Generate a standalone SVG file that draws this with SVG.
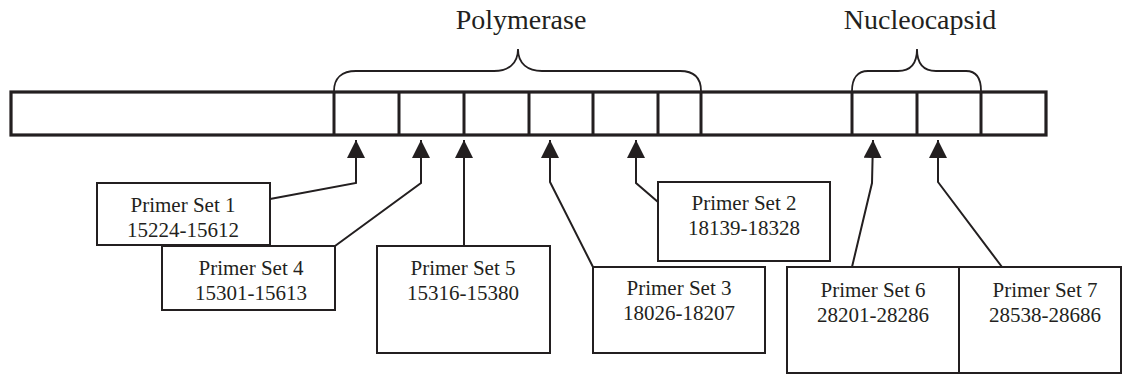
<svg xmlns="http://www.w3.org/2000/svg" width="1122" height="375" viewBox="0 0 1122 375">
<style>
.bar{fill:none;stroke:#231f20;stroke-width:3.2}
.div{stroke:#231f20;stroke-width:3}
.brace{fill:none;stroke:#231f20;stroke-width:1.8}
.box{fill:#fff;stroke:#231f20;stroke-width:2}
.con{fill:none;stroke:#231f20;stroke-width:2}
.lbl{font-family:"Liberation Serif","Times New Roman",serif;font-size:21px;fill:#231f20;text-anchor:middle}
.title{font-family:"Liberation Serif","Times New Roman",serif;font-size:28px;fill:#231f20;text-anchor:middle}
</style>
<defs>
<marker id="ah" markerWidth="18" markerHeight="18" viewBox="0 0 18 18" refX="18" refY="9" orient="auto-start-reverse" markerUnits="userSpaceOnUse">
<path d="M0,0 L18,9 L0,18 Z" fill="#231f20"/>
</marker>
</defs>
<g id="genome">
<rect class="bar" x="11" y="92" width="1035" height="43"/>
<line class="div" x1="334" y1="92" x2="334" y2="135"/>
<line class="div" x1="399" y1="92" x2="399" y2="135"/>
<line class="div" x1="464" y1="92" x2="464" y2="135"/>
<line class="div" x1="529" y1="92" x2="529" y2="135"/>
<line class="div" x1="593" y1="92" x2="593" y2="135"/>
<line class="div" x1="658" y1="92" x2="658" y2="135"/>
<line class="div" x1="701" y1="92" x2="701" y2="135"/>
<line class="div" x1="852" y1="92" x2="852" y2="135"/>
<line class="div" x1="917" y1="92" x2="917" y2="135"/>
<line class="div" x1="981" y1="92" x2="981" y2="135"/>
</g>
<g id="polymerase">
<path class="brace" d="M334,91 C334,78 342,71 356,71 L494,71 C508,71 518,64 518,49 C518,64 528,71 542,71 L680,71 C694,71 701,78 701,91"/>
<text class="title" x="521" y="29">Polymerase</text>
</g>
<g id="nucleocapsid">
<path class="brace" d="M852,91 C852,78 858,71 868,71 L898,71 C910,71 917,64 917,49 C917,64 924,71 936,71 L966,71 C976,71 981,78 981,91"/>
<text class="title" x="920" y="29">Nucleocapsid</text>
</g>
<g id="connectors">
<polyline class="con" points="356,140 356,183 270,199" marker-start="url(#ah)"/>
<polyline class="con" points="421,140 421,183 335,246" marker-start="url(#ah)"/>
<polyline class="con" points="464,140 464,246" marker-start="url(#ah)"/>
<polyline class="con" points="550,140 550,182 593,267" marker-start="url(#ah)"/>
<polyline class="con" points="636,140 636,183 658,202" marker-start="url(#ah)"/>
<polyline class="con" points="873,140 872,183 852,267" marker-start="url(#ah)"/>
<polyline class="con" points="938,140 938,182 1002,267" marker-start="url(#ah)"/>
</g>
<g id="ps1">
<rect class="box" x="97" y="183" width="173" height="62"/>
<text class="lbl" x="183" y="212">Primer Set 1</text>
<text class="lbl" x="183" y="237">15224-15612</text>
</g>
<g id="ps4">
<rect class="box" x="162" y="246" width="173" height="64"/>
<text class="lbl" x="251" y="275">Primer Set 4</text>
<text class="lbl" x="251" y="300">15301-15613</text>
</g>
<g id="ps5">
<rect class="box" x="377" y="246" width="173" height="107"/>
<text class="lbl" x="463" y="275">Primer Set 5</text>
<text class="lbl" x="463" y="300">15316-15380</text>
</g>
<g id="ps2">
<rect class="box" x="658" y="182" width="172" height="79"/>
<text class="lbl" x="744" y="210">Primer Set 2</text>
<text class="lbl" x="744" y="235">18139-18328</text>
</g>
<g id="ps3">
<rect class="box" x="593" y="267" width="172" height="86"/>
<text class="lbl" x="679" y="295">Primer Set 3</text>
<text class="lbl" x="679" y="320">18026-18207</text>
</g>
<g id="ps6">
<rect class="box" x="787" y="267" width="172" height="106"/>
<text class="lbl" x="873" y="297">Primer Set 6</text>
<text class="lbl" x="873" y="322">28201-28286</text>
</g>
<g id="ps7">
<rect class="box" x="959" y="267" width="162" height="106"/>
<text class="lbl" x="1045" y="297">Primer Set 7</text>
<text class="lbl" x="1045" y="322">28538-28686</text>
</g>
</svg>
